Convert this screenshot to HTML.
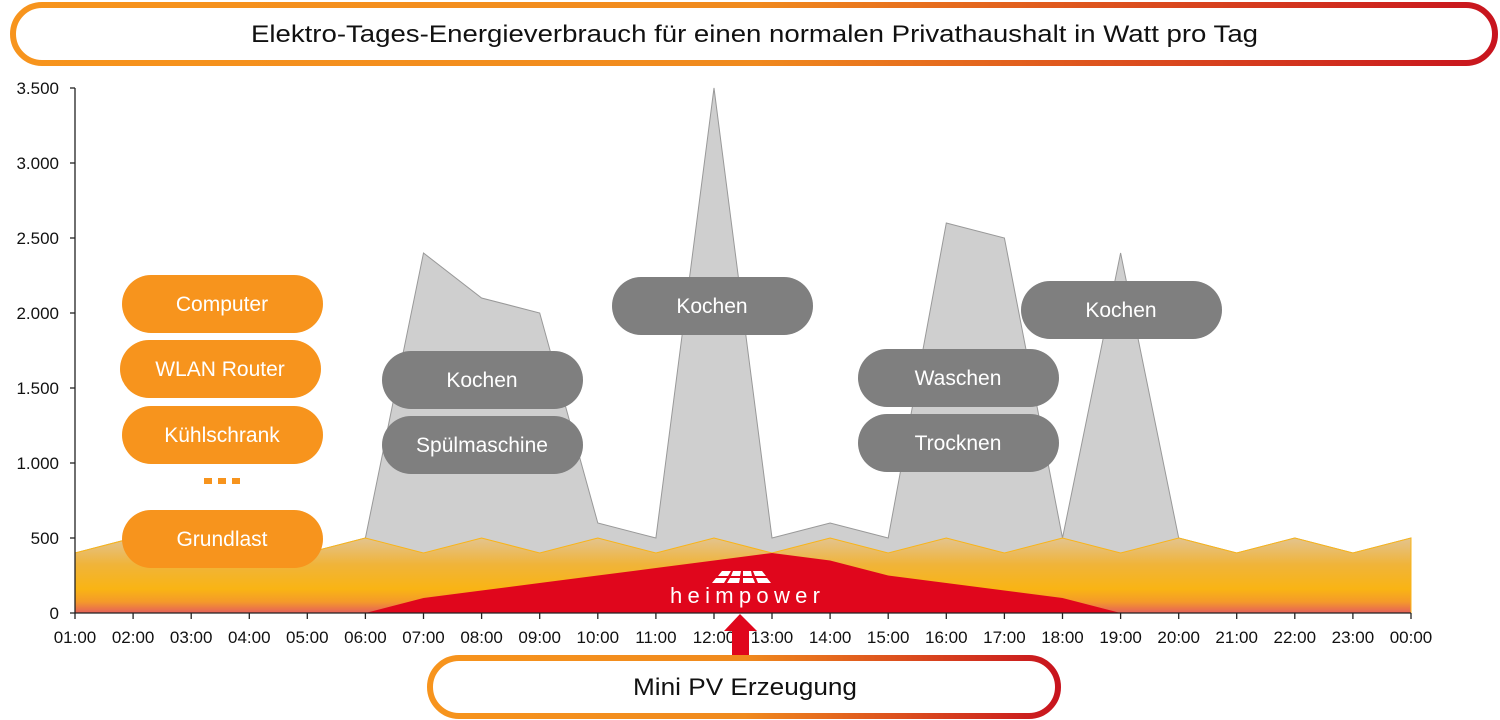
<!DOCTYPE html>
<html><head><meta charset="utf-8"><style>
html,body{margin:0;padding:0;background:#fff;}
svg{display:block;font-family:"Liberation Sans",sans-serif;}
</style></head><body>
<svg width="1500" height="720" viewBox="0 0 1500 720" xmlns="http://www.w3.org/2000/svg">
<defs>
<linearGradient id="bord" x1="0" y1="0" x2="1" y2="0">
<stop offset="0" stop-color="#f7941d"/><stop offset="0.5" stop-color="#f08a1e"/><stop offset="1" stop-color="#c8141e"/>
</linearGradient>
<linearGradient id="yel" x1="0" y1="538" x2="0" y2="613" gradientUnits="userSpaceOnUse">
<stop offset="0" stop-color="#e3c48e"/><stop offset="0.35" stop-color="#f0b43a"/><stop offset="0.68" stop-color="#f9b414"/><stop offset="0.85" stop-color="#f49a2a"/><stop offset="1" stop-color="#e5605a"/>
</linearGradient>
</defs>
<rect x="13" y="5" width="1482" height="58" rx="29" fill="#fff" stroke="url(#bord)" stroke-width="6"/>
<text x="251" y="42" font-size="24" fill="#111" textLength="1007" lengthAdjust="spacingAndGlyphs">Elektro-Tages-Energieverbrauch für einen normalen Privathaushalt in Watt pro Tag</text>
<polygon fill="#cfcfcf" stroke="#999" stroke-width="1" points="75,613 75,553 133.1,538 191.2,553 249.3,538 307.3,553 365.4,538 423.5,253 481.6,298 539.7,313 597.8,523 655.9,538 714,88 772,538 830.1,523 888.2,538 946.3,223 1004.4,238 1062.5,538 1120.6,253 1178.7,538 1236.7,553 1294.8,538 1352.9,553 1411,538 1411,613"/>
<polygon fill="url(#yel)" stroke="#f9b418" stroke-width="1" points="75,613 75,553 133.1,538 191.2,553 249.3,538 307.3,553 365.4,538 423.5,553 481.6,538 539.7,553 597.8,538 655.9,553 714,538 772,553 830.1,538 888.2,553 946.3,538 1004.4,553 1062.5,538 1120.6,553 1178.7,538 1236.7,553 1294.8,538 1352.9,553 1411,538 1411,613"/>
<polygon fill="#e0061c" points="365.4,613 423.5,598 481.6,590.5 539.7,583 597.8,575.5 655.9,568 714,560.5 772,553 830.1,560.5 888.2,575.5 946.3,583 1004.4,590.5 1062.5,598 1120.6,613"/>
<g fill="#fff">
<polygon points="722,571 731,571 728,576 718,576"/><polygon points="733,571 741,571 740,576 731,576"/><polygon points="743,571 751,571 752,576 743,576"/><polygon points="753,571 762,571 766,576 755,576"/>
<polygon points="716,578 727,578 724,583 712,583"/><polygon points="730,578 740,578 739,583 727,583"/><polygon points="743,578 753,578 755,583 743,583"/><polygon points="756,578 767,578 771,583 758,583"/>
</g>
<text x="670" y="603" font-size="22" fill="#fff" textLength="150" lengthAdjust="spacing">heimpower</text>
<g stroke="#222" stroke-width="1.3" fill="none">
<line x1="75" y1="88" x2="75" y2="613"/><line x1="70" y1="613" x2="1411" y2="613"/>
<line x1="70" y1="88" x2="75" y2="88"/><line x1="70" y1="163" x2="75" y2="163"/><line x1="70" y1="238" x2="75" y2="238"/><line x1="70" y1="313" x2="75" y2="313"/><line x1="70" y1="388" x2="75" y2="388"/><line x1="70" y1="463" x2="75" y2="463"/><line x1="70" y1="538" x2="75" y2="538"/>
</g>
<g stroke="#222" stroke-width="1.3">
<line x1="75" y1="613" x2="75" y2="619"/><line x1="133.1" y1="613" x2="133.1" y2="619"/><line x1="191.2" y1="613" x2="191.2" y2="619"/><line x1="249.3" y1="613" x2="249.3" y2="619"/><line x1="307.3" y1="613" x2="307.3" y2="619"/><line x1="365.4" y1="613" x2="365.4" y2="619"/><line x1="423.5" y1="613" x2="423.5" y2="619"/><line x1="481.6" y1="613" x2="481.6" y2="619"/><line x1="539.7" y1="613" x2="539.7" y2="619"/><line x1="597.8" y1="613" x2="597.8" y2="619"/><line x1="655.9" y1="613" x2="655.9" y2="619"/><line x1="714" y1="613" x2="714" y2="619"/><line x1="772" y1="613" x2="772" y2="619"/><line x1="830.1" y1="613" x2="830.1" y2="619"/><line x1="888.2" y1="613" x2="888.2" y2="619"/><line x1="946.3" y1="613" x2="946.3" y2="619"/><line x1="1004.4" y1="613" x2="1004.4" y2="619"/><line x1="1062.5" y1="613" x2="1062.5" y2="619"/><line x1="1120.6" y1="613" x2="1120.6" y2="619"/><line x1="1178.7" y1="613" x2="1178.7" y2="619"/><line x1="1236.7" y1="613" x2="1236.7" y2="619"/><line x1="1294.8" y1="613" x2="1294.8" y2="619"/><line x1="1352.9" y1="613" x2="1352.9" y2="619"/><line x1="1411" y1="613" x2="1411" y2="619"/>
</g>
<g font-size="17" fill="#111" text-anchor="end">
<text x="59" y="94">3.500</text><text x="59" y="169">3.000</text><text x="59" y="244">2.500</text><text x="59" y="319">2.000</text><text x="59" y="394">1.500</text><text x="59" y="469">1.000</text><text x="59" y="544">500</text><text x="59" y="619">0</text>
</g>
<g font-size="17" fill="#111" text-anchor="middle">
<text x="75" y="643">01:00</text><text x="133.1" y="643">02:00</text><text x="191.2" y="643">03:00</text><text x="249.3" y="643">04:00</text><text x="307.3" y="643">05:00</text><text x="365.4" y="643">06:00</text><text x="423.5" y="643">07:00</text><text x="481.6" y="643">08:00</text><text x="539.7" y="643">09:00</text><text x="597.8" y="643">10:00</text><text x="655.9" y="643">11:00</text><text x="714" y="643">12:00</text><text x="772" y="643">13:00</text><text x="830.1" y="643">14:00</text><text x="888.2" y="643">15:00</text><text x="946.3" y="643">16:00</text><text x="1004.4" y="643">17:00</text><text x="1062.5" y="643">18:00</text><text x="1120.6" y="643">19:00</text><text x="1178.7" y="643">20:00</text><text x="1236.7" y="643">21:00</text><text x="1294.8" y="643">22:00</text><text x="1352.9" y="643">23:00</text><text x="1411" y="643">00:00</text>
</g>
<g fill="#f7941d">
<rect x="122" y="275" width="201" height="58" rx="29"/>
<rect x="120" y="340" width="201" height="58" rx="29"/>
<rect x="122" y="406" width="201" height="58" rx="29"/>
<rect x="122" y="510" width="201" height="58" rx="29"/>
<rect x="204" y="478" width="8" height="6"/><rect x="218" y="478" width="8" height="6"/><rect x="232" y="478" width="8" height="6"/>
</g>
<g font-size="21" fill="#fff" text-anchor="middle">
<text x="222" y="311">Computer</text><text x="220" y="376">WLAN Router</text><text x="222" y="442">Kühlschrank</text><text x="222" y="546">Grundlast</text>
</g>
<g fill="#7f7f7f">
<rect x="382" y="351" width="201" height="58" rx="29"/>
<rect x="382" y="416" width="201" height="58" rx="29"/>
<rect x="612" y="277" width="201" height="58" rx="29"/>
<rect x="858" y="349" width="201" height="58" rx="29"/>
<rect x="858" y="414" width="201" height="58" rx="29"/>
<rect x="1021" y="281" width="201" height="58" rx="29"/>
</g>
<g font-size="21" fill="#fff" text-anchor="middle">
<text x="482" y="387">Kochen</text><text x="482" y="452">Spülmaschine</text><text x="712" y="313">Kochen</text><text x="958" y="385">Waschen</text><text x="958" y="450">Trocknen</text><text x="1121" y="317">Kochen</text>
</g>
<polygon fill="#e0061c" points="740,614 757,631 749,631 749,657 732,657 732,631 724,631"/>
<rect x="430" y="658" width="628" height="58" rx="29" fill="#fff" stroke="url(#bord)" stroke-width="6"/>
<text x="633" y="695" font-size="24" fill="#111" textLength="224" lengthAdjust="spacingAndGlyphs">Mini PV Erzeugung</text>
</svg>
</body></html>
